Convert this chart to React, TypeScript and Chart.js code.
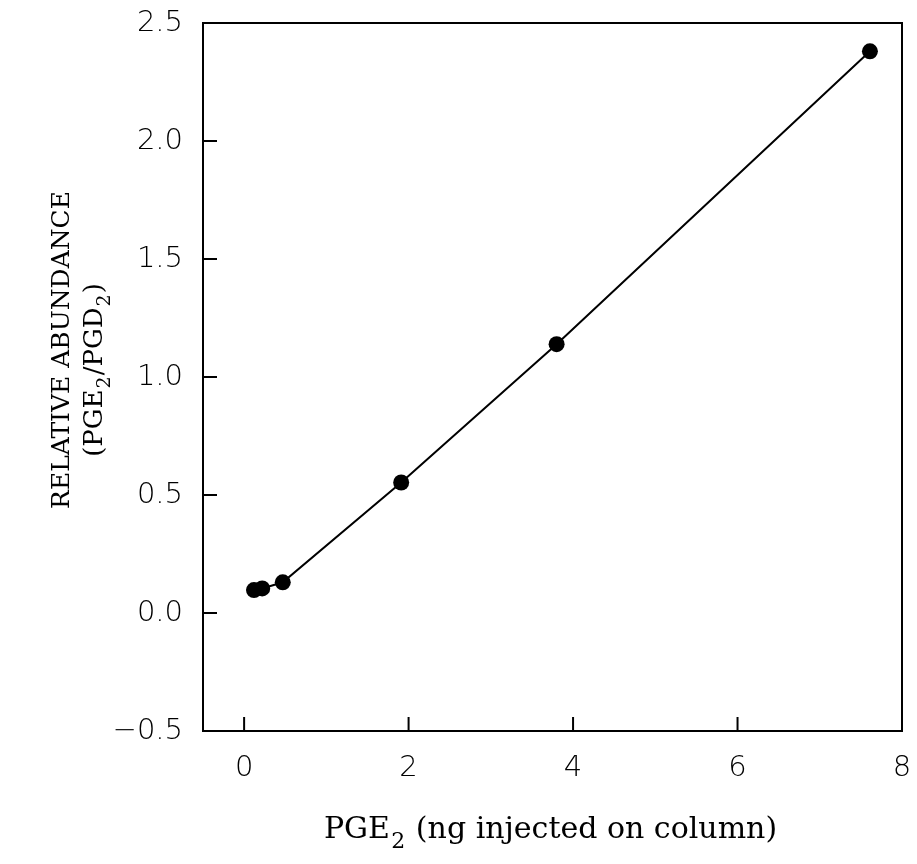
import React, { useEffect, useRef } from "react";
import { Chart, registerables } from "chart.js";

Chart.register(...registerables);

const xValues = [0.12, 0.22, 0.47, 1.91, 3.8, 7.61];
const yValues = [0.097, 0.104, 0.13, 0.553, 1.139, 2.38];
const xTickValues = [0, 2, 4, 6, 8];
const yTickValues = [-0.5, 0, 0.5, 1.0, 1.5, 2.0, 2.5];
// Titles as text segments; "sub" marks a subscript
const xTitleParts = [
  { t: "PGE", sub: false },
  { t: "2", sub: true },
  { t: " (ng injected on column)", sub: false },
];
const yTitleLine1 = [{ t: "RELATIVE ABUNDANCE", sub: false }];
const yTitleLine2 = [
  { t: "(PGE", sub: false },
  { t: "2", sub: true },
  { t: "/PGD", sub: false },
  { t: "2", sub: true },
  { t: ")", sub: false },
];

function drawParts(ctx: any, parts: any[], cx: number, cy: number, size: number, family: string) {
  const mainFont = `${size}px "${family}"`;
  const subFont = `${Math.round(size * 0.74)}px "${family}"`;
  let total = 0;
  const widths = parts.map((p) => {
    ctx.font = p.sub ? subFont : mainFont;
    const w = ctx.measureText(p.t).width + (p.sub ? size * 0.08 : 0);
    total += w;
    return w;
  });
  let x = cx - total / 2;
  ctx.textBaseline = "middle";
  ctx.textAlign = "left";
  parts.forEach((p, i) => {
    ctx.font = p.sub ? subFont : mainFont;
    ctx.fillText(p.t, x + (p.sub ? size * 0.04 : 0), p.sub ? cy + size * 0.4 : cy);
    x += widths[i];
  });
}

const frameAndTicks = {
  id: "frameAndTicks",
  afterDraw(chart: any) {
    const { ctx, chartArea } = chart;
    const { left, right, top, bottom } = chartArea;
    const xs = chart.scales.x;
    const ys = chart.scales.y;
    ctx.save();
    ctx.strokeStyle = "#000";
    ctx.lineWidth = 2;
    ctx.strokeRect(left, top, right - left, bottom - top);
    const len = 14;
    xs.ticks.forEach((t: any) => {
      const px = xs.getPixelForValue(t.value);
      ctx.beginPath();
      ctx.moveTo(px, bottom);
      ctx.lineTo(px, bottom - len);
      ctx.stroke();
    });
    ys.ticks.forEach((t: any) => {
      const py = ys.getPixelForValue(t.value);
      ctx.beginPath();
      ctx.moveTo(left, py);
      ctx.lineTo(left + len, py);
      ctx.stroke();
    });
    // axis titles
    ctx.fillStyle = "#000";
    drawParts(ctx, xTitleParts, (left + right) / 2 - 2, 830, 30, "DejaVu Serif");
    const midY = (top + bottom) / 2;
    ctx.save();
    ctx.translate(62, midY - 27);
    ctx.rotate(-Math.PI / 2);
    drawParts(ctx, yTitleLine1, 0, 0, 25, "DejaVu Serif");
    ctx.restore();
    ctx.save();
    ctx.translate(95, midY - 7);
    ctx.rotate(-Math.PI / 2);
    drawParts(ctx, yTitleLine2, 0, 0, 26, "DejaVu Serif");
    ctx.restore();
    ctx.restore();
  },
};

export default function App() {
  const ref = useRef<HTMLCanvasElement>(null);
  useEffect(() => {
    if (!ref.current) return;
    const data = xValues.map((x, i) => ({ x, y: yValues[i] }));
    const chart = new Chart(ref.current, {
      type: "scatter",
      data: {
        datasets: [
          {
            data,
            showLine: true,
            borderColor: "#000",
            borderWidth: 2,
            backgroundColor: "#000",
            pointBackgroundColor: "#000",
            pointBorderColor: "#000",
            pointRadius: 8,
            pointBorderWidth: 0,
          },
        ],
      },
      options: {
        animation: false,
        responsive: false,
        devicePixelRatio: 1,
        layout: { padding: { left: 0, top: 23, right: 15, bottom: 0 } },
        plugins: { legend: { display: false }, tooltip: { enabled: false } },
        scales: {
          x: {
            type: "linear",
            min: -0.5,
            max: 8,
            afterBuildTicks: (s: any) => {
              s.ticks = xTickValues.map((v) => ({ value: v }));
            },
            afterFit: (s: any) => {
              s.height = 133;
              s.paddingLeft = 0;
              s.paddingRight = 0;
            },
            grid: { display: false, drawTicks: false },
            border: { display: false },
            ticks: {
              color: "#000",
              padding: 20,
              font: { family: "DejaVu Sans", size: 29, weight: "300" },
              callback: (v: any) => String(v),
            },
          },
          y: {
            type: "linear",
            min: -0.5,
            max: 2.5,
            afterBuildTicks: (s: any) => {
              s.ticks = yTickValues.map((v) => ({ value: v }));
            },
            afterFit: (s: any) => {
              s.width = 203;
              s.paddingTop = 0;
              s.paddingBottom = 0;
            },
            grid: { display: false, drawTicks: false },
            border: { display: false },
            ticks: {
              color: "#000",
              padding: 20,
              font: { family: "DejaVu Sans", size: 29, weight: "300" },
              callback: (v: any) => {
                const n = Number(v);
                return n < 0 ? "\u2212" + Math.abs(n).toFixed(1) : n.toFixed(1);
              },
            },
          },
        },
      },
      plugins: [frameAndTicks],
    });
    return () => chart.destroy();
  }, []);
  return (
    <div style={{ position: "absolute", left: 0, top: 0, width: 917, height: 864, background: "#fff" }}>
      <canvas ref={ref} width={917} height={864} style={{ display: "block" }} />
    </div>
  );
}
